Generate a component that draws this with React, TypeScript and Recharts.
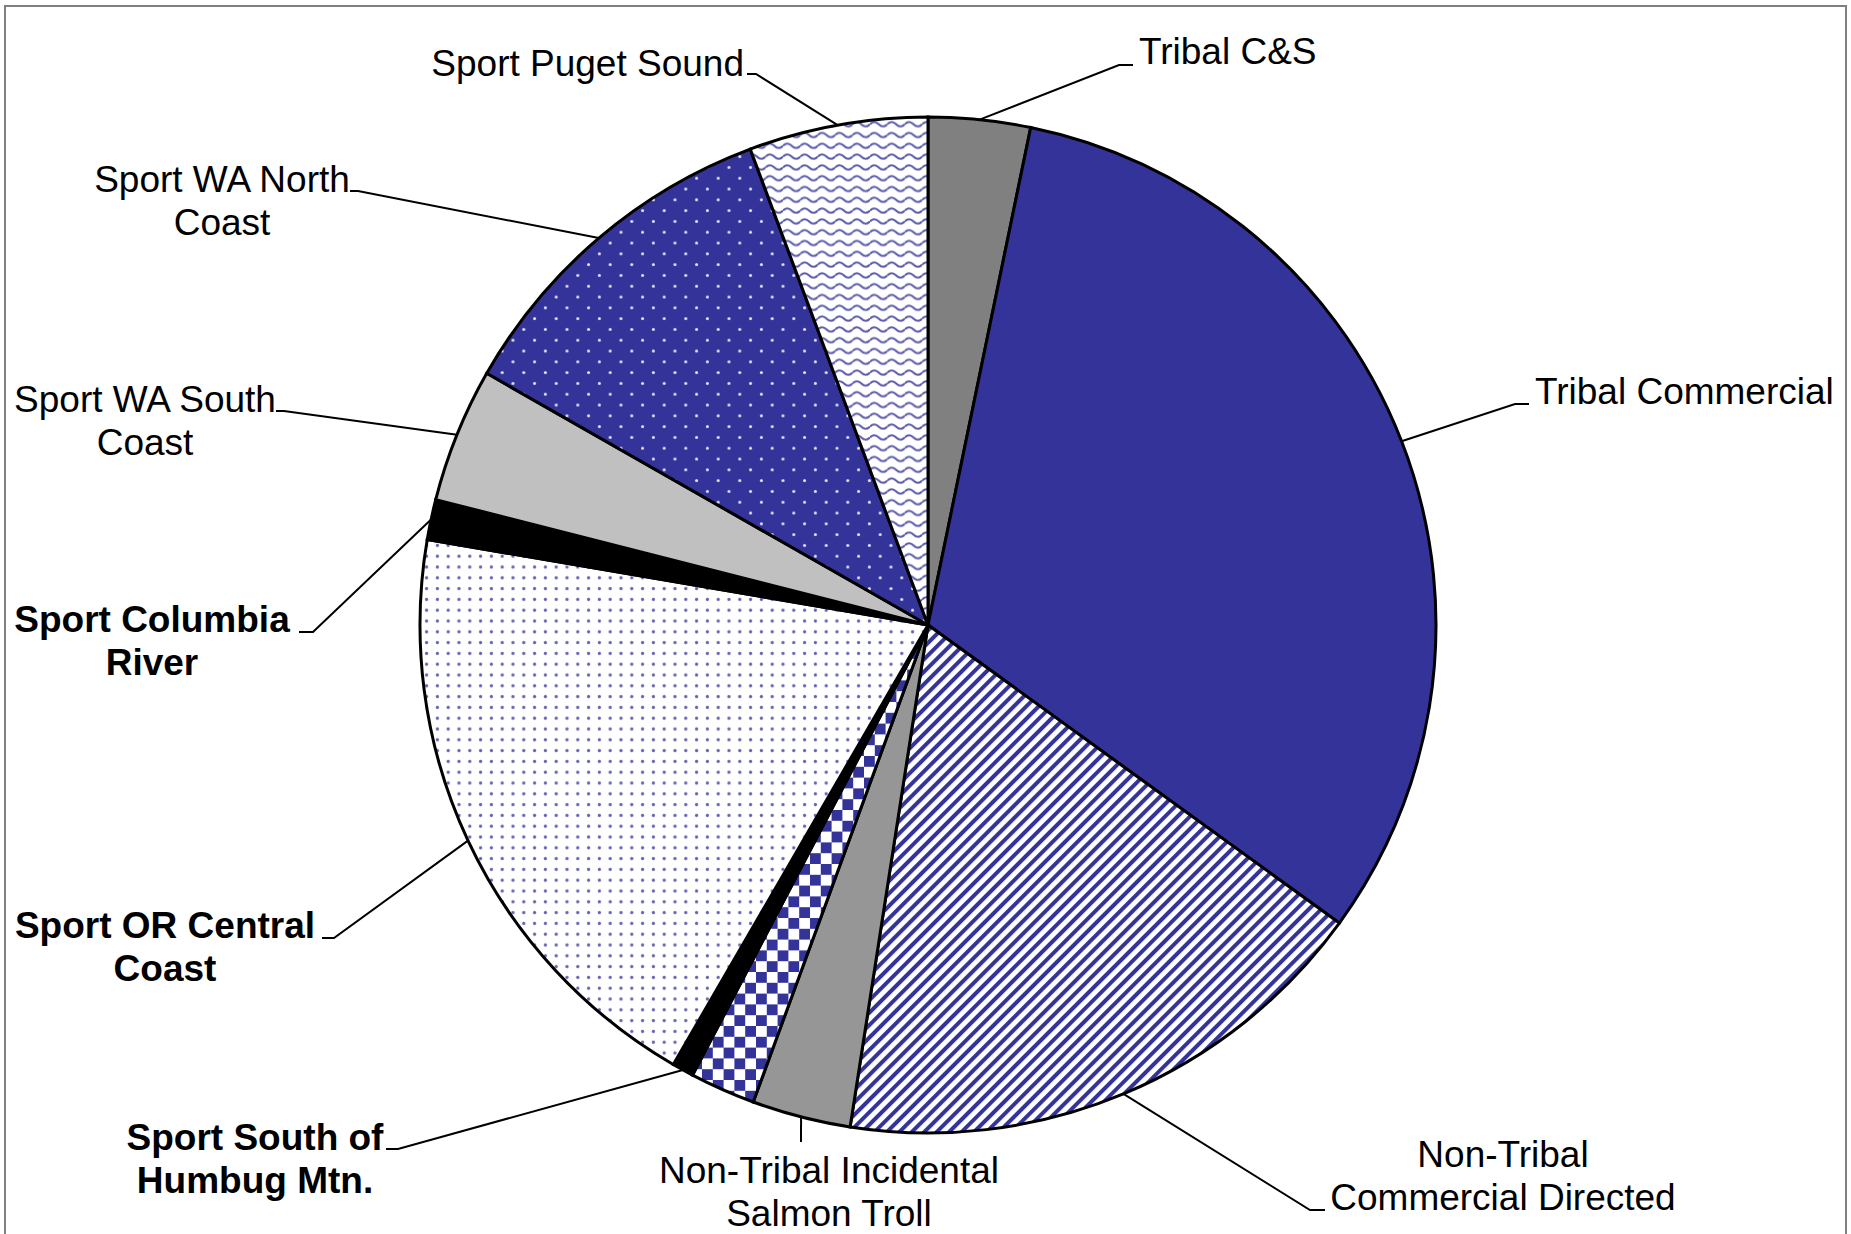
import { PieChart, Pie, Cell } from 'recharts';

// catch shares by fishery (percent of total)
const categories = [
  'Tribal C&S',
  'Tribal Commercial',
  'Non-Tribal Commercial Directed',
  'Non-Tribal Incidental Salmon Troll',
  'Other',
  'Sport South of Humbug Mtn.',
  'Sport OR Central Coast',
  'Sport Columbia River',
  'Sport WA South Coast',
  'Sport WA North Coast',
  'Sport Puget Sound',
];
const shares = [3.24, 31.74, 17.47, 3.14, 2.08, 0.69, 19.33, 1.28, 4.28, 11.06, 5.69];
const labelText = [
  ['Tribal C&S'],
  ['Tribal Commercial'],
  ['Non-Tribal', 'Commercial Directed'],
  ['Non-Tribal Incidental', 'Salmon Troll'],
  [],
  ['Sport South of', 'Humbug Mtn.'],
  ['Sport OR Central', 'Coast'],
  ['Sport Columbia', 'River'],
  ['Sport WA South', 'Coast'],
  ['Sport WA North', 'Coast'],
  ['Sport Puget Sound'],
];
const boldLabels = [false, false, false, false, false, true, true, true, false, false, false];

const data = categories.map((name, i) => ({ name, value: shares[i] }));

// fills and label layout (styling only)
const fills = [
  '#808080',
  '#333399',
  'url(#diag)',
  '#969696',
  'url(#checker)',
  '#000000',
  'url(#dotsLight)',
  '#000000',
  '#C0C0C0',
  'url(#dotsDark)',
  'url(#wave)',
];

type Spot = { anchor: 'start' | 'middle' | 'end'; x: number; y: number; elbow: [number, number]; end: [number, number] } | null;
const spots: Spot[] = [
  { anchor: 'start', x: 1139, y: 51, elbow: [1119, 65], end: [1133, 65] },
  { anchor: 'start', x: 1535, y: 391, elbow: [1515, 404], end: [1529, 404] },
  { anchor: 'middle', x: 1503, y: 1154, elbow: [1310, 1210], end: [1325, 1210] },
  { anchor: 'middle', x: 829, y: 1170, elbow: [801, 1142], end: [801, 1142] },
  null,
  { anchor: 'middle', x: 255, y: 1137, elbow: [398, 1149], end: [386, 1149] },
  { anchor: 'middle', x: 165, y: 925, elbow: [334, 938], end: [322, 938] },
  { anchor: 'middle', x: 152, y: 619, elbow: [313, 632], end: [299, 632] },
  { anchor: 'middle', x: 145, y: 399, elbow: [284, 411], end: [276, 411] },
  { anchor: 'middle', x: 222, y: 179, elbow: [358, 191], end: [350, 191] },
  { anchor: 'end', x: 744, y: 63, elbow: [756, 74], end: [747, 74] },
];

const RAD = Math.PI / 180;
const FONT = '"Liberation Sans", Arial, sans-serif';

const renderLabel = (props: any) => {
  const { cx, cy, midAngle, outerRadius, index } = props;
  const spot = spots[index];
  if (!spot) return null;
  const sx = cx + outerRadius * Math.cos(-midAngle * RAD);
  const sy = cy + outerRadius * Math.sin(-midAngle * RAD);
  return (
    <g key={`lbl-${index}`}>
      <polyline
        points={`${sx},${sy} ${spot.elbow[0]},${spot.elbow[1]} ${spot.end[0]},${spot.end[1]}`}
        fill="none"
        stroke="#000"
        strokeWidth={2}
      />
      {labelText[index].map((line, j) => (
        <text
          key={j}
          x={spot.x}
          y={spot.y + j * 43.5}
          textAnchor={spot.anchor}
          dominantBaseline="central"
          fontFamily={FONT}
          fontSize={37}
          fontWeight={boldLabels[index] ? 'bold' : 'normal'}
          fill="#000"
        >
          {line}
        </text>
      ))}
    </g>
  );
};

const Patterns = () => (
  <svg width={0} height={0} style={{ position: 'absolute' }}>
    <defs>
      <pattern id="diag" patternUnits="userSpaceOnUse" width={8.8} height={8.8} patternTransform="rotate(45)">
        <rect width={8.8} height={8.8} fill="#fff" />
        <rect width={4} height={8.8} fill="#333399" />
      </pattern>
      <pattern id="checker" patternUnits="userSpaceOnUse" width={21.6} height={21.6}>
        <rect width={21.6} height={21.6} fill="#fff" />
        <rect width={10.8} height={10.8} fill="#333399" />
        <rect x={10.8} y={10.8} width={10.8} height={10.8} fill="#333399" />
      </pattern>
      <pattern id="dotsLight" patternUnits="userSpaceOnUse" width={10.8} height={10.8}>
        <rect width={10.8} height={10.8} fill="#fff" />
        <circle cx={5.4} cy={5.4} r={1.6} fill="#6262b4" />
      </pattern>
      <pattern id="dotsDark" patternUnits="userSpaceOnUse" width={21.6} height={21.6}>
        <rect width={21.6} height={21.6} fill="#333399" />
        <circle cx={5.4} cy={5.4} r={1.5} fill="#e8e8f4" />
        <circle cx={16.2} cy={16.2} r={1.5} fill="#e8e8f4" />
      </pattern>
      <pattern id="wave" patternUnits="userSpaceOnUse" width={17.4} height={10.8}>
        <rect width={17.4} height={10.8} fill="#fff" />
        <path d="M0,5.4 Q4.35,0.8 8.7,5.4 T17.4,5.4" fill="none" stroke="#5a5aac" strokeWidth={2} />
      </pattern>
    </defs>
  </svg>
);

export default function App() {
  return (
    <div
      style={{
        position: 'absolute',
        left: 0,
        top: 0,
        width: 1851,
        height: 1234,
        overflow: 'hidden',
        background: '#fff',
      }}
    >
      <Patterns />
      <div
        style={{
          position: 'absolute',
          left: 4,
          top: 5,
          width: 1843,
          height: 1300,
          border: '2px solid #808080',
          boxSizing: 'border-box',
        }}
      />
      <div style={{ position: 'absolute', left: 0, top: 0 }}>
        <PieChart width={1851} height={1234} margin={{ top: 0, right: 0, bottom: 0, left: 0 }}>
          <Pie
            data={data}
            dataKey="value"
            nameKey="name"
            cx={928}
            cy={625}
            outerRadius={508}
            startAngle={90}
            endAngle={-270}
            stroke="#000"
            strokeWidth={3}
            label={renderLabel}
            labelLine={false}
            isAnimationActive={false}
          >
            {data.map((d, i) => (
              <Cell key={d.name} fill={fills[i]} />
            ))}
          </Pie>
        </PieChart>
      </div>
    </div>
  );
}
